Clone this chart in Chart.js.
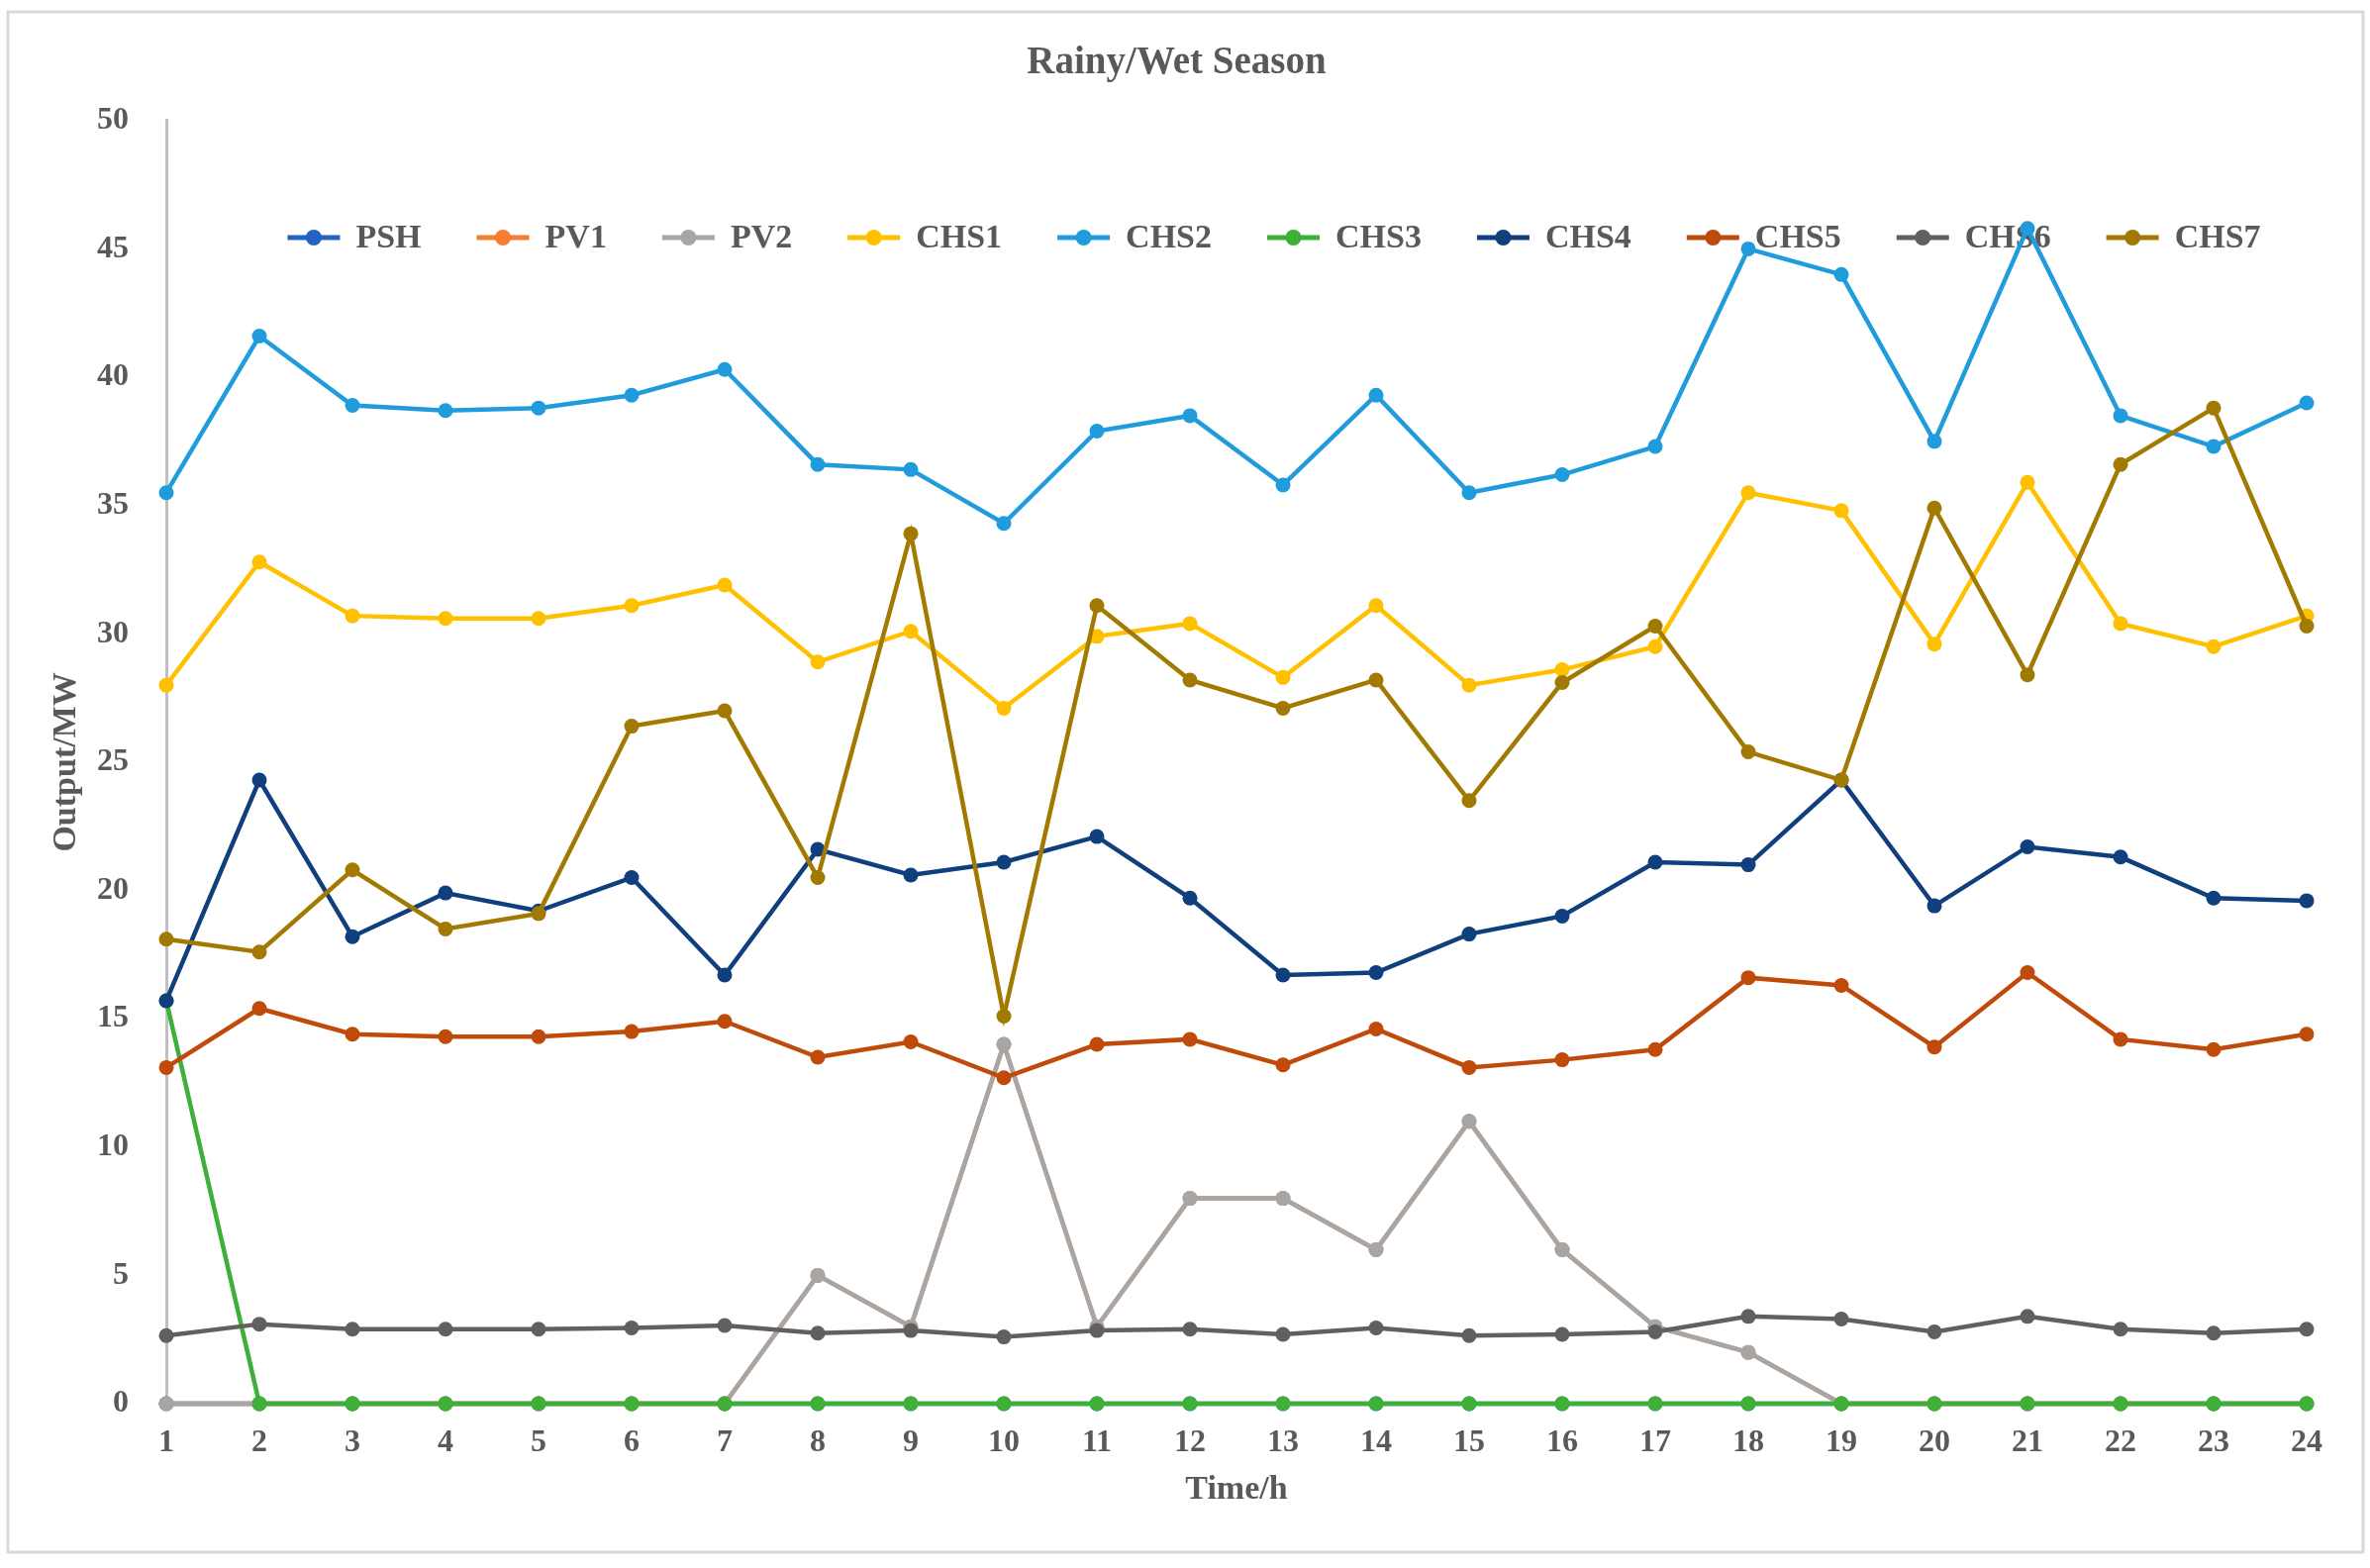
<!DOCTYPE html>
<html>
<head>
<meta charset="utf-8">
<script src="https://cdn.jsdelivr.net/npm/chart.js@4.4.1/dist/chart.umd.min.js"></script>
<style>
  html, body { margin: 0; padding: 0; background: #fff; }
  canvas { display: block; }
</style>
</head>
<body>
<canvas id="seasonChart" width="2394" height="1584"></canvas>
<script>
// hours on the x axis
const hours = ["1","2","3","4","5","6","7","8","9","10","11","12","13","14","15","16","17","18","19","20","21","22","23","24"];

// output per unit, MW
const psh  = [0,0,0,0,0,0,0,0,0,0,0,0,0,0,0,0,0,0,0,0,0,0,0,0];
const pv1  = [0,0,0,0,0,0,0,5,3,14,3,8,8,6,11,6,3,2,0,0,0,0,0,0];
const pv2  = [0,0,0,0,0,0,0,5,3,14,3,8,8,6,11,6,3,2,0,0,0,0,0,0];
const chs1 = [28.0,32.8,30.7,30.6,30.6,31.1,31.9,28.9,30.1,27.1,29.9,30.4,28.3,31.1,28.0,28.6,29.5,35.5,34.8,29.6,35.9,30.4,29.5,30.7];
const chs2 = [35.5,41.6,38.9,38.7,38.8,39.3,40.3,36.6,36.4,34.3,37.9,38.5,35.8,39.3,35.5,36.2,37.3,45.0,44.0,37.5,45.8,38.5,37.3,39.0];
const chs3 = [15.7,0,0,0,0,0,0,0,0,0,0,0,0,0,0,0,0,0,0,0,0,0,0,0];
const chs4 = [15.7,24.3,18.2,19.9,19.2,20.5,16.7,21.6,20.6,21.1,22.1,19.7,16.7,16.8,18.3,19.0,21.1,21.0,24.3,19.4,21.7,21.3,19.7,19.6];
const chs5 = [13.1,15.4,14.4,14.3,14.3,14.5,14.9,13.5,14.1,12.7,14.0,14.2,13.2,14.6,13.1,13.4,13.8,16.6,16.3,13.9,16.8,14.2,13.8,14.4];
const chs6 = [2.65,3.1,2.9,2.9,2.9,2.95,3.05,2.75,2.85,2.6,2.85,2.9,2.7,2.95,2.65,2.7,2.8,3.4,3.3,2.8,3.4,2.9,2.75,2.9];
const chs7 = [18.1,17.6,20.8,18.5,19.1,26.4,27.0,20.5,33.9,15.1,31.1,28.2,27.1,28.2,23.5,28.1,30.3,25.4,24.3,34.9,28.4,36.6,38.8,30.3];

const seriesNames = ["PSH","PV1","PV2","CHS1","CHS2","CHS3","CHS4","CHS5","CHS6","CHS7"];
const seriesValues = [psh, pv1, pv2, chs1, chs2, chs3, chs4, chs5, chs6, chs7];
const seriesColors = ["#2563C3","#F57C30","#A6A6A6","#FFC000","#209CDC","#3EAF37","#103F7E","#BF4A0A","#606060","#A27A02"];

const textColor = "#595959";
const serif = "'Liberation Serif', 'Times New Roman', serif";

const datasets = seriesNames.map((name, i) => ({
    label: name,
    data: seriesValues[i],
    borderColor: seriesColors[i],
    backgroundColor: seriesColors[i],
    pointBackgroundColor: seriesColors[i],
    pointBorderColor: seriesColors[i],
    pointBorderWidth: 0,
    pointRadius: 7.5,
    borderWidth: 4.5,
    tension: 0,
    fill: false,
    clip: false,
    order: seriesNames.length - i, // later series on top, like the original
}));

const framePlugin = {
    id: "frame",
    beforeDraw(chart) {
        const ctx = chart.ctx;
        ctx.save();
        ctx.fillStyle = "#ffffff";
        ctx.fillRect(0, 0, chart.width, chart.height);
        ctx.strokeStyle = "#D9D9D9";
        ctx.lineWidth = 3;
        ctx.strokeRect(8, 12, 2379, 1556);
        ctx.restore();
    }
};

// one-row legend sitting inside the plot, under the lines (as in the original)
const insideLegend = {
    id: "insideLegend",
    beforeDatasetsDraw(chart, args, opts) {
        const ctx = chart.ctx;
        const lineW = 53, gapText = 16, gapItem = 56;
        ctx.save();
        ctx.font = "bold 34px " + serif;
        ctx.textBaseline = "middle";
        const widths = chart.data.datasets.map(ds => lineW + gapText + ctx.measureText(ds.label).width);
        const total = widths.reduce((a, b) => a + b, 0) + gapItem * (widths.length - 1);
        let x = opts.centerX - total / 2;
        const y = opts.y;
        chart.data.datasets.forEach((ds, i) => {
            ctx.strokeStyle = ds.borderColor;
            ctx.fillStyle = ds.borderColor;
            ctx.lineWidth = 5;
            ctx.beginPath();
            ctx.moveTo(x, y);
            ctx.lineTo(x + lineW, y);
            ctx.stroke();
            ctx.beginPath();
            ctx.arc(x + lineW / 2, y, 8, 0, Math.PI * 2);
            ctx.fill();
            ctx.fillStyle = textColor;
            ctx.fillText(ds.label, x + lineW + gapText, y + 1);
            x += widths[i] + gapItem;
        });
        ctx.restore();
    }
};

new Chart(document.getElementById("seasonChart"), {
    type: "line",
    data: { labels: hours, datasets: datasets },
    plugins: [framePlugin, insideLegend],
    options: {
        responsive: false,
        animation: false,
        devicePixelRatio: 1,
        layout: { padding: { left: 47, right: 64, top: 0, bottom: 58 } },
        plugins: {
            tooltip: { enabled: false },
            legend: { display: false },
            insideLegend: { centerX: 1287, y: 240 },
            title: {
                display: true,
                text: "Rainy/Wet Season",
                color: textColor,
                font: { family: serif, size: 39, weight: "bold" },
                padding: { top: 41, bottom: 34 },
            },
        },
        scales: {
            x: {
                type: "category",
                offset: false,
                grid: { display: false, drawTicks: false },
                border: { display: true, color: "#BFBFBF", width: 3 },
                ticks: {
                    color: textColor,
                    padding: 21,
                    maxRotation: 0,
                    autoSkip: false,
                    font: { family: serif, size: 32, weight: "bold" },
                },
                title: {
                    display: true,
                    text: "Time/h",
                    color: textColor,
                    padding: 0,
                    font: { family: serif, size: 34, weight: "bold" },
                },
                afterFit: (scale) => { scale.height = 108; },
            },
            y: {
                min: 0,
                max: 50,
                grid: { display: false, drawTicks: false },
                border: { display: true, color: "#BFBFBF", width: 3 },
                ticks: {
                    stepSize: 5,
                    color: textColor,
                    padding: 38,
                    font: { family: serif, size: 32, weight: "bold" },
                },
                title: {
                    display: true,
                    text: "Output/MW",
                    color: textColor,
                    padding: 0,
                    font: { family: serif, size: 34, weight: "bold" },
                },
                afterFit: (scale) => { scale.width = 121; },
            },
        },
    },
});
</script>
</body>
</html>
